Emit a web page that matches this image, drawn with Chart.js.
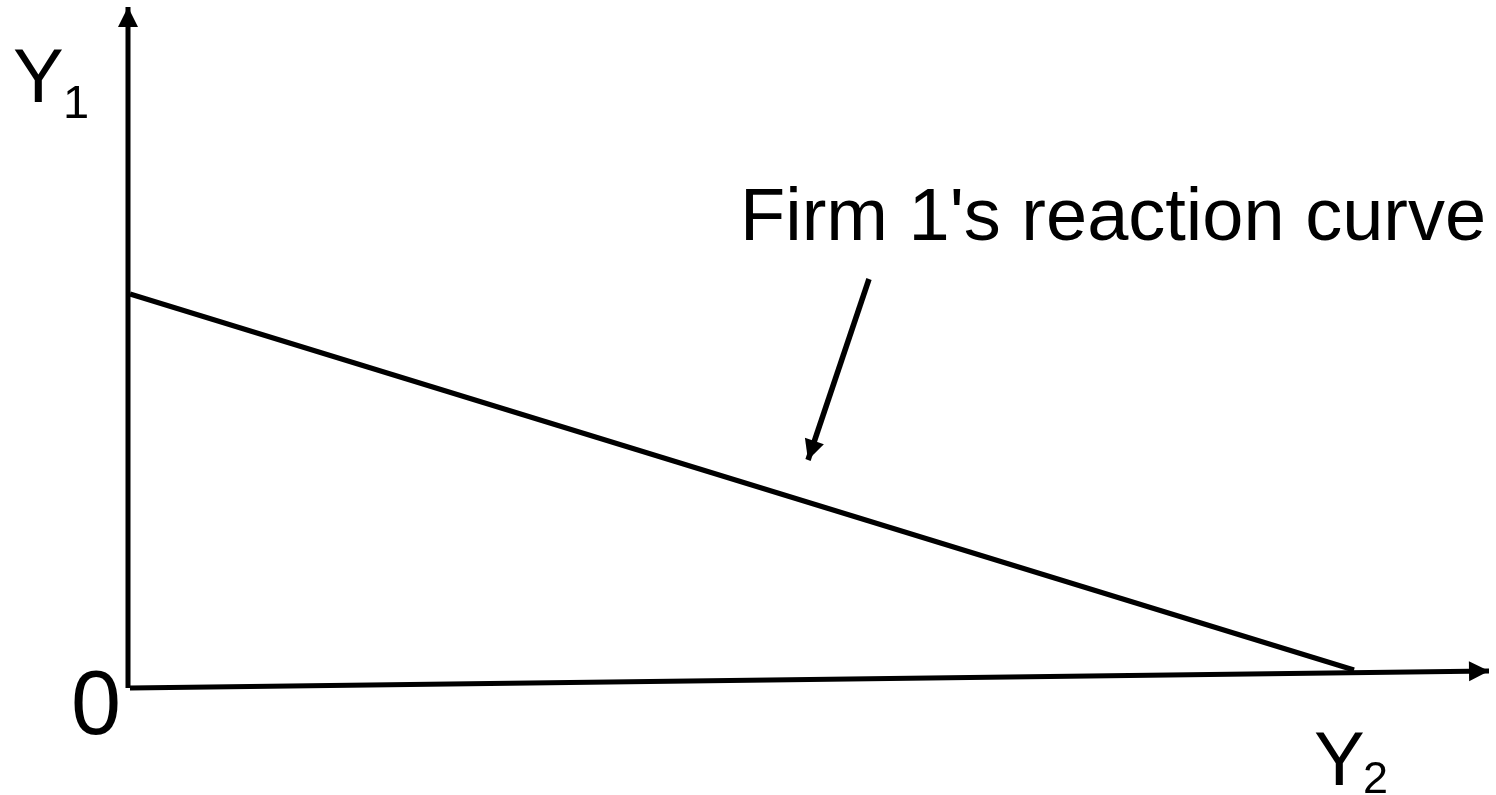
<!DOCTYPE html>
<html>
<head>
<meta charset="utf-8">
<script src="https://cdn.jsdelivr.net/npm/chart.js@4.4.1/dist/chart.umd.min.js"></script>
<style>
  html, body { margin: 0; padding: 0; background: #ffffff; }
  #wrap { width: 1496px; height: 795px; position: relative; }
</style>
</head>
<body>
<div id="wrap"><canvas id="c"></canvas></div>
<script>
// Diagram data (units: Y2 on x, Y1 on y; origin at the axes' corner)
const yAxisLine = [{x: 0, y: 0}, {x: 0, y: 681}];
const xAxisLine = [{x: 2, y: 0}, {x: 1361, y: 17}];
const reactionCurve = [{x: 2, y: 394}, {x: 1226, y: 18}];
const pointerLine = [{x: 741, y: 409}, {x: 680, y: 228}];

// Text labels
const labelTexts = ["Y", "1", "0", "Y", "2", "Firm 1's reaction curve"];
const labelX = [-115, -65, -57, 1186, 1235, 612];
const labelY = [586, 570, -46, -97, -105, 448];
const labelSize = [76, 47, 90, 76, 45, 74];

const FONT = "'Liberation Sans', Arial, sans-serif";
const HEAD_LEN = 20;
const HEAD_WIDTH = 20;

const arrowPlugin = {
  id: 'arrowHeads',
  afterDraw(chart) {
    const ctx = chart.ctx;
    const xs = chart.scales.x, ys = chart.scales.y;
    chart.data.datasets.forEach(ds => {
      if (!ds.arrow) return;
      const n = ds.data.length;
      const a = ds.data[n - 2], b = ds.data[n - 1];
      const ax = xs.getPixelForValue(a.x), ay = ys.getPixelForValue(a.y);
      const bx = xs.getPixelForValue(b.x), by = ys.getPixelForValue(b.y);
      const ang = Math.atan2(by - ay, bx - ax);
      const L = HEAD_LEN, W = HEAD_WIDTH / 2;
      const cx = bx - L * Math.cos(ang), cy = by - L * Math.sin(ang);
      ctx.save();
      ctx.fillStyle = '#000000';
      ctx.beginPath();
      ctx.moveTo(bx, by);
      ctx.lineTo(cx - W * Math.sin(ang), cy + W * Math.cos(ang));
      ctx.lineTo(cx + W * Math.sin(ang), cy - W * Math.cos(ang));
      ctx.closePath();
      ctx.fill();
      ctx.restore();
    });
  }
};

const labelPlugin = {
  id: 'labels',
  afterDraw(chart) {
    const ctx = chart.ctx;
    const xs = chart.scales.x, ys = chart.scales.y;
    ctx.save();
    ctx.fillStyle = '#000';
    ctx.textAlign = 'left';
    ctx.textBaseline = 'alphabetic';
    labelTexts.forEach((t, i) => {
      ctx.font = labelSize[i] + 'px ' + FONT;
      ctx.fillText(t, xs.getPixelForValue(labelX[i]), ys.getPixelForValue(labelY[i]));
    });
    ctx.restore();
  }
};

function lineDs(data, width, arrow) {
  return {
    data: data,
    showLine: true,
    borderColor: '#000000',
    backgroundColor: '#000000',
    borderWidth: width,
    pointRadius: 0,
    pointHoverRadius: 0,
    fill: false,
    tension: 0,
    borderCapStyle: 'butt',
    arrow: arrow
  };
}

new Chart(document.getElementById('c'), {
  type: 'scatter',
  data: {
    datasets: [
      lineDs(yAxisLine, 5, true),
      lineDs(xAxisLine, 5, true),
      lineDs(reactionCurve, 5, false),
      lineDs(pointerLine, 5.5, true)
    ]
  },
  options: {
    responsive: true,
    maintainAspectRatio: false,
    animation: false,
    layout: { padding: 0 },
    plugins: { legend: { display: false }, tooltip: { enabled: false } },
    events: [],
    scales: {
      x: { type: 'linear', min: -128, max: 1368, display: false },
      y: { type: 'linear', min: -107, max: 688, display: false }
    }
  },
  plugins: [arrowPlugin, labelPlugin]
});
</script>
</body>
</html>
